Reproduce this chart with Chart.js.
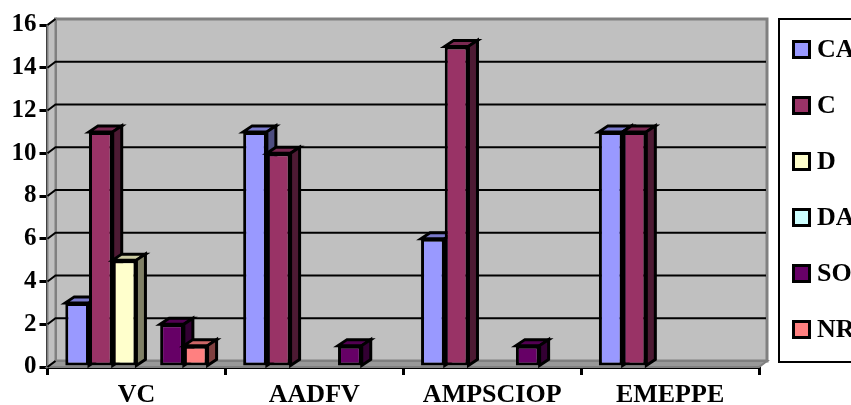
<html>
<head>
    <title>chart</title>

    <style>
        body {
            margin: 0;
            background: white;
            overflow: hidden;
            font-family: "Liberation Serif";
        }
        #chart_wrap {
            position: absolute;
            left: 0;
            top: 0;
            width: 851px;
            height: 405px;
        }
        #div_legend {
            position: absolute;
            left: 778px;
            top: 18px;
            width: 100px;
            height: 340px;
            border: 2px solid black;
            padding-top: 1px;
            box-sizing: content-box;
        }
        .legend_row {
            height: 56px;
            display: flex;
            align-items: center;
            font-size: 26px;
            font-weight: bold;
            color: black;
        }
        .legend_box {
            width: 13px;
            height: 13px;
            border: 3px solid black;
            margin-left: 12px;
            margin-right: 6px;
        }
    </style>
</head>
<body>

<script src="https://cdn.jsdelivr.net/npm/chart.js@4/dist/chart.umd.min.js"></script>

<div id="chart_wrap"><canvas id="bars" width="851" height="405"></canvas></div>
<div id="div_legend"></div>

<script>

    const categories = ['VC', 'AADFV', 'AMPSCIOP', 'EMEPPE'];
    const series_names = ['CA', 'C', 'D', 'DA', 'SO', 'NR'];
    const series_colors = ['#9999FF', '#993366', '#FFFFCC', '#CCFFFF', '#660066', '#FF8080'];

    const ca_values = [3, 11, 6, 11];
    const c_values = [11, 10, 15, 11];
    const d_values = [5, 0, 0, 0];
    const da_values = [0, 0, 0, 0];
    const so_values = [2, 1, 1, 0];
    const nr_values = [1, 0, 0, 0];
    const series_values = [ca_values, c_values, d_values, da_values, so_values, nr_values];

    const y_max = 16;
    const y_step = 2;

    // depth of the fake 3d box, and of the bars
    const wall_dx = 8, wall_dy = 6;
    const bar_dx = 9, bar_dy = 6;

    function shade(hex, f) {
        const n = parseInt(hex.slice(1), 16);
        const r = Math.round((n >> 16 & 255) * f);
        const g = Math.round((n >> 8 & 255) * f);
        const b = Math.round((n & 255) * f);
        return `rgb(${r},${g},${b})`;
    }

    function poly(ctx, pts, fill, stroke, lw) {
        ctx.beginPath();
        ctx.moveTo(pts[0][0], pts[0][1]);
        for (let i = 1; i < pts.length; i++) ctx.lineTo(pts[i][0], pts[i][1]);
        ctx.closePath();
        ctx.fillStyle = fill;
        ctx.fill();
        ctx.strokeStyle = stroke;
        ctx.lineWidth = lw;
        ctx.lineJoin = 'miter';
        ctx.stroke();
    }

    const box_plugin = {
        id: 'box3d',
        // back wall, side wall, floor and gridlines behind the bars
        beforeDatasetsDraw(chart) {
            const ctx = chart.ctx;
            const a = chart.chartArea;
            const y = chart.scales.y;
            ctx.save();
            poly(ctx, [[a.left + wall_dx, a.top - wall_dy], [a.right + wall_dx, a.top - wall_dy],
                [a.right + wall_dx, a.bottom - wall_dy], [a.left + wall_dx, a.bottom - wall_dy]], '#C0C0C0', '#808080', 3);
            poly(ctx, [[a.left, a.top], [a.left + wall_dx, a.top - wall_dy],
                [a.left + wall_dx, a.bottom - wall_dy], [a.left, a.bottom]], '#C0C0C0', '#808080', 2);
            poly(ctx, [[a.left, a.bottom], [a.left + wall_dx, a.bottom - wall_dy],
                [a.right + wall_dx, a.bottom - wall_dy], [a.right, a.bottom]], '#999999', '#808080', 2);

            ctx.strokeStyle = 'black';
            ctx.lineWidth = 2;
            y.ticks.forEach(t => {
                const py = y.getPixelForValue(t.value);
                ctx.beginPath();
                ctx.moveTo(a.left, py);
                ctx.lineTo(a.left + wall_dx, py - wall_dy);
                if (t.value > 0 && t.value < y_max) ctx.lineTo(a.right + wall_dx - 1, py - wall_dy);
                ctx.stroke();
            });
            ctx.restore();
        },
        // the library draws last dataset first, we need left to right so each bar hides the side of the one before
        beforeDatasetDraw() {
            return false;
        },
        afterDatasetsDraw(chart) {
            const ctx = chart.ctx;
            series_names.forEach((name, index) => {
                const meta = chart.getDatasetMeta(index);
                const color = series_colors[index];
                ctx.save();
                meta.data.forEach((bar, i) => {
                    if (!(series_values[index][i] > 0)) return;
                    const p = bar.getProps(['x', 'y', 'base', 'width'], true);
                    const l = p.x - p.width / 2, r = p.x + p.width / 2;
                    poly(ctx, [[l, p.y], [l + bar_dx, p.y - bar_dy], [r + bar_dx, p.y - bar_dy], [r, p.y]], shade(color, 0.8), 'black', 3);
                    poly(ctx, [[r, p.y], [r + bar_dx, p.y - bar_dy], [r + bar_dx, p.base - bar_dy], [r, p.base]], shade(color, 0.5), 'black', 3);
                });
                ctx.restore();
                meta.controller.draw();
            });
        }
    };

    const bars_chart = new Chart(document.getElementById('bars'), {
        type: 'bar',
        data: {
            labels: categories,
            datasets: series_names.map((name, i) => ({
                label: name,
                data: series_values[i],
                backgroundColor: series_colors[i],
                borderColor: 'black',
                borderWidth: 3,
                borderSkipped: false,
                categoryPercentage: 0.8,
                barPercentage: 1
            }))
        },
        options: {
            responsive: false,
            animation: false,
            layout: {padding: {left: 0, top: 25, right: 92, bottom: 0}},
            plugins: {
                legend: {display: false},
                tooltip: {enabled: false}
            },
            scales: {
                x: {
                    afterFit: s => { s.height = 38; },
                    border: {color: 'black', width: 3},
                    grid: {offset: true, drawOnChartArea: false, color: 'black', tickLength: 8, lineWidth: 3},
                    ticks: {color: 'black', padding: 5, maxRotation: 0, font: {family: 'Liberation Serif', weight: 'bold', size: 26}}
                },
                y: {
                    min: 0,
                    max: y_max,
                    afterFit: s => { s.width = 47.5; },
                    border: {color: 'black', width: 3},
                    grid: {drawOnChartArea: false, color: 'black', tickLength: 8, lineWidth: 3},
                    ticks: {stepSize: y_step, color: 'black', padding: 3, font: {family: 'Liberation Serif', weight: 'bold', size: 25}}
                }
            }
        },
        plugins: [box_plugin]
    });

    // legend is plain html, it runs off the right edge of the page
    const text = [];
    for (let i = 0; i < series_names.length; i++) {
        text.push(`<div class="legend_row"><span class="legend_box" style="background-color: ${series_colors[i]};"></span>${series_names[i]}</div>`);
    }
    document.getElementById('div_legend').innerHTML = text.join('');

</script>

</body>
</html>
